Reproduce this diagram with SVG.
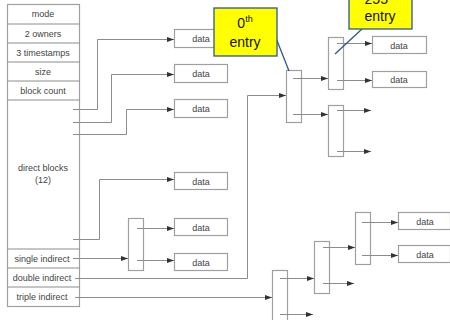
<svg xmlns="http://www.w3.org/2000/svg" width="450" height="320" viewBox="0 0 450 320">
<defs>
<marker id="ah" markerUnits="userSpaceOnUse" markerWidth="7" markerHeight="5" refX="7" refY="2.5" orient="auto">
<path d="M0,0 L7,2.5 L0,5 z" fill="#333"/>
</marker>
<style>
.box{fill:#fff;stroke:#a0a0a0;stroke-width:1.2}
.blk{fill:none;stroke:#a0a0a0;stroke-width:1.2}
.ln{fill:none;stroke:#8c8c8c;stroke-width:1}
.ar{marker-end:url(#ah)}
.t{font-family:"Liberation Sans",Arial,sans-serif;font-size:9px;fill:#444;text-anchor:middle}
.call{fill:#ffff00;stroke:#2f5597;stroke-width:1.3}
.ct{font-family:"Liberation Sans",Arial,sans-serif;font-size:14px;fill:#111;text-anchor:middle}
.ptr{stroke:#2f5597;stroke-width:1.3;fill:none}
</style>
</defs>
<rect width="450" height="320" fill="#fff"/>

<g id="inode">
<rect class="box" x="7.5" y="4.5" width="72" height="302"/>
<path class="ln" d="M7.5 24H79.5M7.5 43H79.5M7.5 62H79.5M7.5 81H79.5M7.5 100H79.5M7.5 249H79.5M7.5 268H79.5M7.5 287H79.5" stroke="#a0a0a0"/>
<text class="t" x="43" y="17">mode</text>
<text class="t" x="43" y="36.5">2 owners</text>
<text class="t" x="43" y="55.5">3 timestamps</text>
<text class="t" x="43" y="74.5">size</text>
<text class="t" x="43" y="93.5">block count</text>
<text class="t" x="43" y="171">direct blocks</text>
<text class="t" x="43" y="183">(12)</text>
<text class="t" x="42" y="261.5">single indirect</text>
<text class="t" x="42" y="280.5">double indirect</text>
<text class="t" x="42" y="299.5">triple indirect</text>
</g>

<g id="data1"><rect class="box" x="174.5" y="29.5" width="53" height="18"/><text class="t" x="201" y="42">data</text></g>
<g id="data2"><rect class="box" x="174.5" y="64.5" width="53" height="18"/><text class="t" x="201" y="77">data</text></g>
<g id="data3"><rect class="box" x="174.5" y="99.5" width="53" height="18"/><text class="t" x="201" y="112">data</text></g>
<g id="data4"><rect class="box" x="174.5" y="172.5" width="53" height="17"/><text class="t" x="201" y="184.5">data</text></g>
<g id="data5"><rect class="box" x="174.5" y="218.5" width="53" height="17"/><text class="t" x="201" y="230.5">data</text></g>
<g id="data6"><rect class="box" x="174.5" y="253.5" width="53" height="17"/><text class="t" x="201" y="265.5">data</text></g>
<g id="data7"><rect class="box" x="372.5" y="36.5" width="54" height="17"/><text class="t" x="399" y="48.5">data</text></g>
<g id="data8"><rect class="box" x="372.5" y="71.5" width="54" height="16"/><text class="t" x="399" y="83">data</text></g>
<g id="data9"><rect class="box" x="398.5" y="212.5" width="52" height="17"/><text class="t" x="425" y="224.5">data</text></g>
<g id="data10"><rect class="box" x="398.5" y="245.5" width="52" height="17"/><text class="t" x="425" y="257.5">data</text></g>

<g id="single-block"><rect class="blk" x="128.5" y="218.5" width="15" height="52"/></g>
<g id="double-l1"><rect class="blk" x="286.5" y="70.5" width="15" height="52"/></g>
<g id="double-l2a"><rect class="blk" x="328.5" y="37.5" width="15" height="52"/></g>
<g id="double-l2b"><rect class="blk" x="328.5" y="105.5" width="15" height="51"/></g>
<g id="triple-l1"><rect class="blk" x="272.5" y="270.5" width="15" height="60"/></g>
<g id="triple-l2"><rect class="blk" x="314.5" y="241.5" width="15" height="52"/></g>
<g id="triple-l3"><rect class="blk" x="355.5" y="212.5" width="15" height="52"/></g>

<g id="connectors">
<path class="ln ar" d="M73 109.5H97.5V39.5H174"/>
<path class="ln ar" d="M73 122.5H111.5V74.5H174"/>
<path class="ln ar" d="M73 134.5H126.5V109.5H174"/>
<path class="ln ar" d="M73 239.5H99.5V179.5H174"/>
<path class="ln ar" d="M73 258.5H128"/>
<path class="ln ar" d="M137 228.5H174"/>
<path class="ln ar" d="M137 260.5H174"/>
<path class="ln ar" d="M75 278.5H247.5V95.5H286"/>
<path class="ln ar" d="M75 297.5H272"/>
<path class="ln ar" d="M293 78.5H328"/>
<path class="ln ar" d="M293 114.5H328"/>
<path class="ln ar" d="M337 43.5H372"/>
<path class="ln ar" d="M337 80.5H372"/>
<path class="ln ar" d="M337 110.5H371"/>
<path class="ln ar" d="M337 151.5H371"/>
<path class="ln ar" d="M280 278.5H314"/>
<path class="ln ar" d="M280 314.5H313"/>
<path class="ln ar" d="M323 247.5H355"/>
<path class="ln ar" d="M323 283.5H354"/>
<path class="ln ar" d="M362 222.5H398"/>
<path class="ln ar" d="M362 255.5H398"/>
</g>

<g id="callout-0th">
<line class="ptr" x1="276" y1="38" x2="289" y2="71"/>
<rect class="call" x="214" y="8" width="63" height="48"/>
<text class="ct" x="245" y="28">0<tspan font-size="9" dy="-6">th</tspan></text>
<text class="ct" x="245" y="47">entry</text>
</g>
<g id="callout-2">
<line class="ptr" x1="362" y1="29" x2="335" y2="54"/>
<rect class="call" x="349" y="-20" width="63" height="49"/>
<text class="ct" x="380" y="4">255<tspan font-size="9" dy="-6">th</tspan></text>
<text class="ct" x="380" y="21">entry</text>
</g>
</svg>
